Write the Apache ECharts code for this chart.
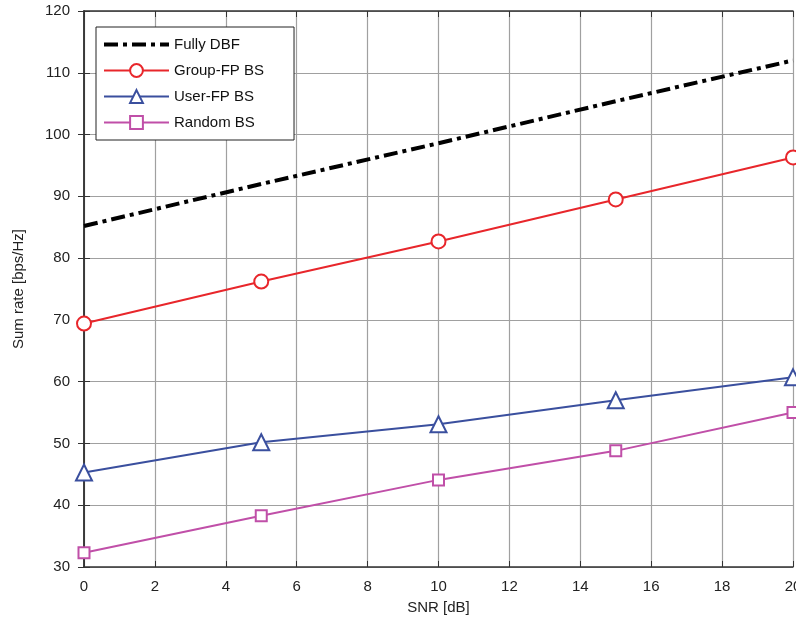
<!DOCTYPE html>
<html>
<head>
<meta charset="utf-8">
<script src="https://cdn.jsdelivr.net/npm/echarts@6/dist/echarts.min.js"></script>
<style>
  html, body { margin: 0; padding: 0; background: #fff; }
  #main { width: 796px; height: 626px; }
</style>
</head>
<body>
<div id="main"></div>
<script>
// SNR values (dB)
var snr = [0, 5, 10, 15, 20];
// sum rates
var fullyDBF = [85.2, 92.0, 98.6, 105.4, 112.0];
var groupFP = [69.4, 76.2, 82.7, 89.5, 96.3];
var userFP = [45.3, 50.2, 53.1, 57.0, 60.7];
var randomBS = [32.3, 38.3, 44.1, 48.8, 55.0];

function pairs(ys) {
    return snr.map(function (x, i) { return [x, ys[i]]; });
}

var font = 'Liberation Sans, Arial, Helvetica, sans-serif';
var myChart = echarts.init(document.getElementById('main'));

var tickStyle = { show: true, inside: true, length: 6, lineStyle: { color: '#333', width: 1 } };
var axisLineStyle = { show: true, lineStyle: { color: '#333', width: 1.5 } };

var options = {
    animation: false,
    backgroundColor: '#fff',
    grid: { left: 84, right: 3, top: 11, bottom: 59, containLabel: false, outerBoundsMode: 'none' },
    legend: {
        orient: 'vertical',
        left: 96,
        top: 27,
        padding: [10, 30, 10, 6],
        itemGap: 11,
        itemWidth: 65,
        itemHeight: 16,
        borderColor: '#222',
        borderWidth: 1,
        backgroundColor: '#fff',
        textStyle: { fontFamily: font, fontSize: 15, color: '#111' },
        data: [
            { name: 'Fully DBF', itemStyle: { opacity: 0 }, lineStyle: { width: 4 } },
            { name: 'Group-FP BS' },
            { name: 'User-FP BS' },
            { name: 'Random BS' }
        ]
    },
    xAxis: [{
        type: 'value',
        min: 0, max: 20, interval: 2,
        name: 'SNR [dB]',
        nameLocation: 'middle',
        nameGap: 33,
        nameTextStyle: { fontFamily: font, fontSize: 15, color: '#222' },
        axisLine: axisLineStyle,
        axisTick: tickStyle,
        axisLabel: { fontFamily: font, fontSize: 15, color: '#222', margin: 12 },
        splitLine: { show: true, lineStyle: { color: '#a0a0a0', width: 1.2 } }
    }, {
        type: 'value', position: 'top',
        min: 0, max: 20, interval: 2,
        axisLine: axisLineStyle,
        axisTick: tickStyle,
        axisLabel: { show: false },
        splitLine: { show: false }
    }],
    yAxis: [{
        type: 'value',
        min: 30, max: 120, interval: 10,
        name: 'Sum rate [bps/Hz]',
        nameLocation: 'middle',
        nameGap: 58,
        nameTextStyle: { fontFamily: font, fontSize: 15, color: '#222' },
        axisLine: axisLineStyle,
        axisTick: tickStyle,
        axisLabel: { fontFamily: font, fontSize: 15, color: '#222', margin: 14 },
        splitLine: { show: true, lineStyle: { color: '#a0a0a0', width: 1.2 } }
    }, {
        type: 'value', position: 'right',
        min: 30, max: 120, interval: 10,
        axisLine: axisLineStyle,
        axisTick: tickStyle,
        axisLabel: { show: false },
        splitLine: { show: false }
    }],
    series: [{
        name: 'Fully DBF',
        type: 'line',
        data: pairs(fullyDBF),
        symbol: 'none',
        color: '#000',
        lineStyle: { color: '#000', width: 4, type: [14, 5, 4, 5] }
    }, {
        name: 'Group-FP BS',
        type: 'line',
        data: pairs(groupFP),
        symbol: 'emptyCircle',
        symbolSize: 14,
        color: '#e8262b',
        lineStyle: { color: '#e8262b', width: 2 },
        itemStyle: { color: '#e8262b', borderColor: '#e8262b', borderWidth: 3 }
    }, {
        name: 'User-FP BS',
        type: 'line',
        data: pairs(userFP),
        symbol: 'emptyTriangle',
        symbolSize: 16,
        color: '#3a4f9e',
        lineStyle: { color: '#3a4f9e', width: 2 },
        itemStyle: { color: '#3a4f9e', borderColor: '#3a4f9e', borderWidth: 2.5 }
    }, {
        name: 'Random BS',
        type: 'line',
        data: pairs(randomBS),
        symbol: 'emptyRect',
        symbolSize: 11,
        color: '#c04fa8',
        lineStyle: { color: '#c04fa8', width: 2 },
        itemStyle: { color: '#c04fa8', borderColor: '#c04fa8', borderWidth: 2 }
    }]
};
myChart.setOption(options);
</script>
</body>
</html>
